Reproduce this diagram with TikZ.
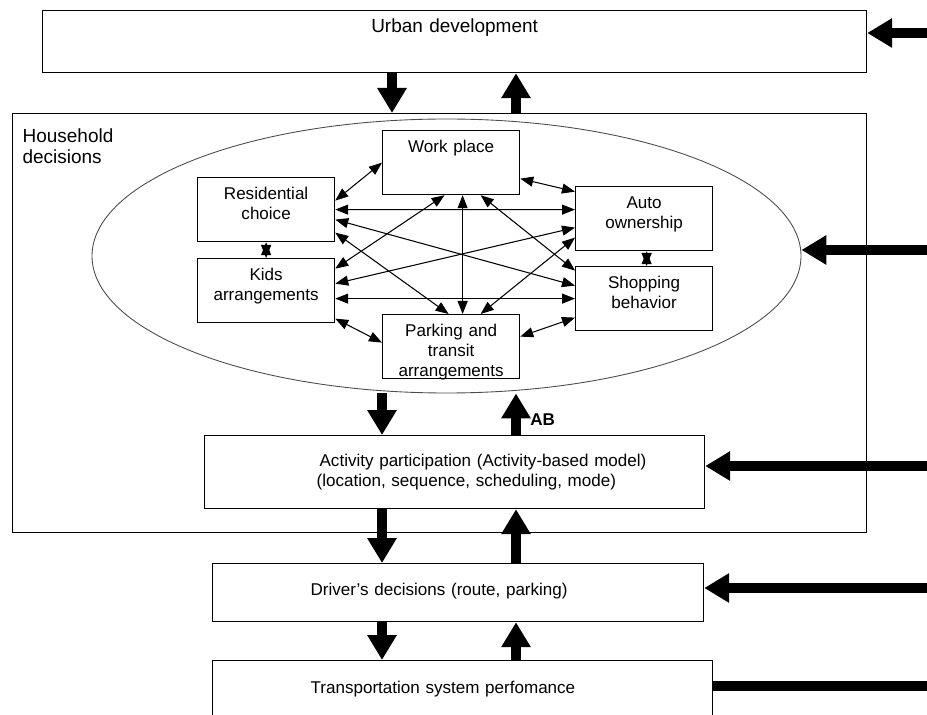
\documentclass[tikz,border=0pt]{standalone}
\usepackage{fontspec}
\setmainfont{Liberation Sans}
\usetikzlibrary{arrows.meta,shapes.geometric}

\tikzset{
  box/.style={draw, line width=0.7pt, inner sep=0pt, anchor=north west,
    text width=2.74cm, align=center, text height=0.43cm, text depth=0.85cm,
    font=\fontsize{9.7}{11.4}\selectfont},
  dbl/.style={line width=0.6pt,
    {Triangle[length=0.26cm,width=0.2cm]}-{Triangle[length=0.26cm,width=0.2cm]}},
  fat/.style={line width=0.2cm, -{Triangle[length=0.5cm,width=0.56cm]}},
}

\begin{document}
\begin{tikzpicture}
    \useasboundingbox (0,0) rectangle (18.54,-14.3);
    \node[box, text width=16.48cm, text height=0.44cm, text depth=0.8cm,
        font=\fontsize{10.8}{12}\selectfont] (urban) at (0.84,-0.2) {
        Urban development
    };
    \node[box, text width=16.68cm, inner xsep=0.2cm, align=left,
        text height=0.58cm, text depth=7.8cm,
        font=\fontsize{10.8}{12}\selectfont] (household) at (0.24,-2.26) {
        Household\\decisions
    };
    \node[draw=black!70, line width=0.5pt, ellipse, inner sep=0pt,
        minimum width=14.18cm, minimum height=5.48cm] (opts) at (8.93,-5.12) {};
    \node[box] (work) at (7.64,-2.6) {Work place};
    \node[box] (resid) at (3.94,-3.54) {Residential\\choice};
    \node[box] (auto) at (11.5,-3.72) {Auto\\ownership};
    \node[box] (kids) at (3.94,-5.16) {Kids\\arrangements};
    \node[box] (shop) at (11.5,-5.32) {Shopping\\behavior};
    \node[box] (park) at (7.64,-6.28) {Parking and\\transit\\arrangements};
    \node[box, text width=10cm, align=left, text height=0.62cm, text depth=0.84cm]
        (activity) at (4.08,-8.7) {
        \hspace*{2.3cm}Activity participation (Activity-based model)\\
        \hspace*{2.24cm}(location, sequence, scheduling, mode)
    };
    \node[box, text width=9.82cm, align=left, text height=0.64cm, text depth=0.52cm]
        (driver) at (4.24,-11.26) {
        \hspace*{1.96cm}Driver's decisions (route, parking)
    };
    \node[box, text width=10cm, align=left, text height=0.66cm, text depth=1.0cm]
        (transp) at (4.24,-13.2) {
        \hspace*{1.96cm}Transportation system perfomance
    };
    \node[anchor=west, inner sep=0pt, font=\bfseries\fontsize{9.7}{11}\selectfont]
        (ab) at (10.6,-8.4) {AB};

    \coordinate (xt) at (7.84,0);
    \coordinate (xd) at (7.64,0);
    \coordinate (xu) at (10.32,0);
    \coordinate (r1) at (18.9,-0.66);
    \coordinate (r2) at (18.9,-5.0);
    \coordinate (r3) at (18.9,-9.32);
    \coordinate (r4) at (18.9,-11.76);
    \coordinate (r5) at (18.9,-13.72);

    \draw[fat] (xt |- urban.south) -- (xt |- household.north);
    \draw[fat] (xu |- household.north) -- (xu |- urban.south);
    \draw[fat] (xd |- opts.south) -- (xd |- activity.north);
    \draw[fat] (xu |- activity.north) -- (xu |- opts.south);
    \draw[fat] (xd |- activity.south) -- (xd |- driver.north);
    \draw[fat] (xu |- driver.north) -- (xu |- activity.south);
    \draw[fat] (xd |- driver.south) -- (xd |- transp.north);
    \draw[fat] (xu |- transp.north) -- (xu |- driver.south);

    \draw[fat] (r1) -- (r1 -| urban.east);
    \draw[fat] (r2) -- (r2 -| opts.east);
    \draw[fat] (r3) -- (r3 -| activity.east);
    \draw[fat] (r4) -- (r4 -| driver.east);
    \draw[line width=0.2cm] (transp.east |- r5) -- (r5);

    \draw[dbl] ([yshift=0.18cm]resid.east) -- (work.west);
    \draw[dbl] (resid.east) -- ([yshift=0.18cm]auto.west);
    \draw[dbl] ([yshift=-0.2cm]resid.east) -- ([yshift=0.26cm]shop.west);
    \draw[dbl] ([yshift=-0.46cm]resid.east) -- ([xshift=-0.05cm]park.north);
    \draw[dbl] ([xshift=-0.13cm]work.south) -- ([yshift=0.44cm]kids.east);
    \draw[dbl] ([xshift=0.23cm]work.south) -- ([xshift=0.23cm]park.north);
    \draw[dbl] ([xshift=0.59cm]work.south) -- ([yshift=0.56cm]shop.west);
    \draw[dbl] ([yshift=-0.32cm]work.east) -- ([yshift=0.54cm]auto.west);
    \draw[dbl] ([yshift=-0.18cm]auto.west) -- ([yshift=0.14cm]kids.east);
    \draw[dbl] ([yshift=-0.38cm]auto.west) -- ([xshift=0.59cm]park.north);
    \draw[dbl] ([yshift=-0.16cm]kids.east) -- (shop.west);
    \draw[dbl] ([yshift=-0.56cm]kids.east) -- ([yshift=0.08cm]park.west);
    \draw[dbl] ([yshift=-0.38cm]shop.west) -- ([yshift=0.2cm]park.east);
    \draw[dbl] (resid.south) -- (kids.north);
    \draw[dbl] ([xshift=0.05cm]auto.south) -- ([xshift=0.05cm]shop.north);
\end{tikzpicture}
\end{document}
